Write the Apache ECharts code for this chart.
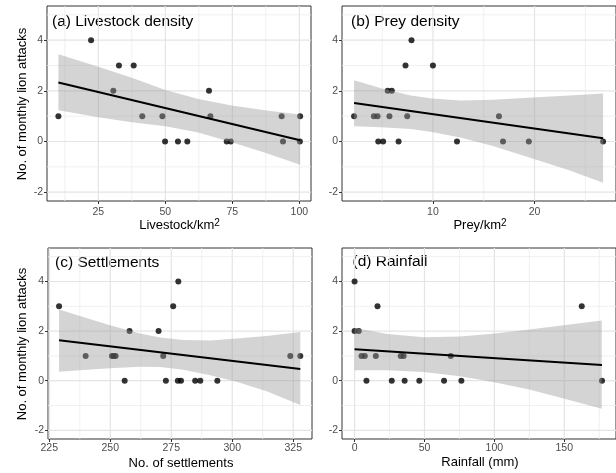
<!DOCTYPE html>
<html><head><meta charset="utf-8">
<script src="https://cdn.jsdelivr.net/npm/echarts@6/dist/echarts.min.js"></script>
<style>html,body{margin:0;padding:0;background:#fff}#c{width:616px;height:473px}</style>
</head><body><div id="c"></div>
<script>
// ---- shared y axis ----
const yLimits = [-2.35, 5.35];
const yTicks = [-2, 0, 2, 4];
const yMinorTicks = [-1, 1, 3, 5];

// ---- (a) Livestock density ----
const livestockLimits = [5.85, 104.35];
const livestockTicks = [25, 50, 75, 100];
const livestockMinor = [12.5, 37.5, 62.5, 87.5];
const livestockX = [10.1, 22.3, 30.6, 32.7, 38.2, 41.4, 48.9, 49.9, 54.7, 58.2, 66.3, 66.8, 72.9, 74.4, 93.4, 93.9, 100.3, 100.2];
const livestockY = [1, 4, 2, 3, 3, 1, 1, 0, 0, 0, 2, 1, 0, 0, 1, 0, 1, 0];
const livestockFitX = [10.1, 100.3];
const livestockFitY = [2.33, 0.05];
const livestockBandX = [10.1, 25, 37.5, 50, 62.3, 74.8, 87.8, 100.3];
const livestockBandLo = [1.23, 0.96, 0.76, 0.60, 0.35, -0.03, -0.46, -0.92];
const livestockBandHi = [3.44, 2.95, 2.52, 2.03, 1.68, 1.42, 1.22, 1.07];

// ---- (b) Prey density ----
const preyLimits = [1.05, 28.02];
const preyTicks = [10, 20];
const preyMinor = [5, 15, 25];
const preyX = [2.24, 4.19, 4.55, 4.62, 5.1, 5.55, 5.72, 5.95, 6.62, 7.3, 7.47, 7.89, 10.0, 12.37, 16.5, 16.9, 19.44, 26.75];
const preyY = [1, 1, 1, 0, 0, 2, 1, 2, 0, 3, 1, 4, 3, 0, 1, 0, 0, 0];
const preyFitX = [2.24, 26.75];
const preyFitY = [1.52, 0.13];
const preyBandX = [2.24, 4.9, 7.8, 9.9, 12.7, 15.9, 19.8, 23.4, 26.75];
const preyBandLo = [0.60, 0.56, 0.49, 0.37, 0.16, -0.18, -0.67, -1.14, -1.63];
const preyBandHi = [2.42, 2.10, 1.82, 1.70, 1.62, 1.65, 1.74, 1.82, 1.89];

// ---- (c) Settlements ----
const settleLimits = [224.47, 332.7];
const settleTicks = [225, 250, 275, 300, 325];
const settleMinor = [237.5, 262.5, 287.5, 312.5];
const settleX = [229, 239.9, 250.7, 251.4, 252.2, 255.9, 257.9, 269.8, 271.7, 272.8, 275.8, 277.9, 277.7, 279, 284.8, 286.9, 293.9, 323.8, 327.9];
const settleY = [3, 1, 1, 1, 1, 0, 2, 2, 1, 0, 3, 4, 0, 0, 0, 0, 0, 1, 1];
const settleFitX = [229, 327.9];
const settleFitY = [1.63, 0.47];
const settleBandX = [229, 238.9, 249.9, 262.2, 270.4, 279.9, 290.9, 301.8, 314.1, 327.9];
const settleBandLo = [0.36, 0.43, 0.50, 0.56, 0.55, 0.44, 0.22, -0.04, -0.42, -0.98];
const settleBandHi = [2.87, 2.57, 2.24, 1.90, 1.74, 1.64, 1.62, 1.70, 1.80, 1.96];

// ---- (d) Rainfall ----
const rainLimits = [-9.0, 187.0];
const rainTicks = [0, 50, 100, 150];
const rainMinor = [25, 75, 125, 175];
const rainX = [0, 0, 3.0, 4.95, 7.3, 8.5, 16.4, 15.2, 26.6, 33.0, 35.1, 35.8, 46.3, 64.0, 68.8, 76.4, 162.5, 177.0];
const rainY = [4, 2, 2, 1, 1, 0, 3, 1, 0, 1, 1, 0, 0, 0, 1, 0, 3, 0];
const rainFitX = [0, 177.0];
const rainFitY = [1.27, 0.63];
const rainBandX = [0, 23.6, 49.5, 75.4, 99, 125, 150.9, 176.8];
const rainBandLo = [0.42, 0.42, 0.35, 0.18, -0.05, -0.35, -0.74, -1.13];
const rainBandHi = [2.12, 1.88, 1.75, 1.78, 1.89, 2.06, 2.25, 2.43];

// ---- text ----
const panelTitles = ['(a) Livestock density', '(b) Prey density', '(c) Settlements', '(d) Rainfall'];
const yTitle = 'No. of monthly lion attacks';

const FONT = '"Liberation Sans", Arial, Helvetica, sans-serif';

const panels = [
  {lim: livestockLimits, ticks: livestockTicks, minor: livestockMinor, x: livestockX, y: livestockY, fx: livestockFitX, fy: livestockFitY, bx: livestockBandX, bl: livestockBandLo, bh: livestockBandHi,
   grid: {left: 47, top: 6, width: 264, height: 195}, labelMargin: 6},
  {lim: preyLimits, ticks: preyTicks, minor: preyMinor, x: preyX, y: preyY, fx: preyFitX, fy: preyFitY, bx: preyBandX, bl: preyBandLo, bh: preyBandHi,
   grid: {left: 342, top: 6, width: 277, height: 195}, labelMargin: 6},
  {lim: settleLimits, ticks: settleTicks, minor: settleMinor, x: settleX, y: settleY, fx: settleFitX, fy: settleFitY, bx: settleBandX, bl: settleBandLo, bh: settleBandHi,
   grid: {left: 48, top: 248, width: 264, height: 191}, labelMargin: 4},
  {lim: rainLimits, ticks: rainTicks, minor: rainMinor, x: rainX, y: rainY, fx: rainFitX, fy: rainFitY, bx: rainBandX, bl: rainBandLo, bh: rainBandHi,
   grid: {left: 342, top: 248, width: 277, height: 191}, labelMargin: 4}
];

function vLine(params, api) {
  const x = api.coord([api.value(0), api.value(1)])[0];
  const cs = params.coordSys;
  const major = api.value(2);
  return {type: 'line', silent: true,
    shape: {x1: x, y1: cs.y, x2: x, y2: cs.y + cs.height},
    style: {stroke: major ? '#e4e4e4' : '#ececec', lineWidth: major ? 1.2 : 0.8}};
}
function hLine(params, api) {
  const y = api.coord([api.value(0), api.value(1)])[1];
  const cs = params.coordSys;
  const major = api.value(2);
  return {type: 'line', silent: true,
    shape: {x1: cs.x, y1: y, x2: cs.x + cs.width, y2: y},
    style: {stroke: major ? '#e4e4e4' : '#ececec', lineWidth: major ? 1.2 : 0.8}};
}
function ribbon(params, api) {
  if (params.dataIndexInside !== 0) return null;
  const n = params.dataInsideLength;
  const top = [], bot = [];
  for (let i = 0; i < n; i++) {
    top.push(api.coord([api.value(0, i), api.value(2, i)]));
    bot.push(api.coord([api.value(0, i), api.value(1, i)]));
  }
  return {type: 'polygon', silent: true,
    shape: {points: top.concat(bot.reverse())},
    style: {fill: '#999999', opacity: 0.42}};
}

const grids = [], xAxes = [], yAxes = [], series = [];
panels.forEach((p, i) => {
  grids.push(Object.assign({show: true, borderColor: '#333333', borderWidth: 1, backgroundColor: 'transparent', containLabel: false}, p.grid));
  xAxes.push({type: 'value', gridIndex: i, min: p.lim[0], max: p.lim[1],
    axisLine: {show: false, onZero: false},
    axisTick: {show: true, length: 3, customValues: p.ticks, lineStyle: {color: '#333333', width: 1}},
    axisLabel: {customValues: p.ticks, margin: p.labelMargin, color: '#4d4d4d', fontSize: 10.5, fontFamily: FONT},
    splitLine: {show: false}});
  yAxes.push({type: 'value', gridIndex: i, min: yLimits[0], max: yLimits[1],
    axisLine: {show: false, onZero: false},
    axisTick: {show: true, length: 3, customValues: yTicks, lineStyle: {color: '#333333', width: 1}},
    axisLabel: {customValues: yTicks, margin: 4, color: '#4d4d4d', fontSize: 10.5, fontFamily: FONT},
    splitLine: {show: false}});
  series.push({type: 'custom', xAxisIndex: i, yAxisIndex: i, silent: true, z: 0, renderItem: vLine,
    data: p.ticks.map(v => [v, 0, 1]).concat(p.minor.map(v => [v, 0, 0]))});
  series.push({type: 'custom', xAxisIndex: i, yAxisIndex: i, silent: true, z: 0, renderItem: hLine,
    data: yTicks.map(v => [p.lim[0], v, 1]).concat(yMinorTicks.map(v => [p.lim[0], v, 0]))});
  series.push({type: 'scatter', xAxisIndex: i, yAxisIndex: i, silent: true, z: 2, symbolSize: 6,
    itemStyle: {color: '#000000'}, data: p.x.map((v, k) => [v, p.y[k]])});
  series.push({type: 'custom', xAxisIndex: i, yAxisIndex: i, silent: true, z: 3, renderItem: ribbon,
    data: p.bx.map((v, k) => [v, p.bl[k], p.bh[k]])});
  series.push({type: 'line', xAxisIndex: i, yAxisIndex: i, silent: true, z: 4, symbol: 'none',
    lineStyle: {color: '#000000', width: 2}, data: p.fx.map((v, k) => [v, p.fy[k]])});
});

function txt(x, y, text, size) {
  return {type: 'text', x: x, y: y,
    style: {text: text, font: size + 'px ' + FONT, fill: '#000000', align: 'left', verticalAlign: 'middle'}};
}
function supTitle(x, y, base) {
  return {type: 'text', x: x, y: y,
    style: {text: '{m|' + base + '}{s|2}', fill: '#000000', align: 'center', verticalAlign: 'middle',
      font: '13px ' + FONT,
      rich: {
        m: {fontSize: 13, fontFamily: FONT, lineHeight: 13, padding: [8, 0, 0, 0], verticalAlign: 'bottom', fill: '#000000'},
        s: {fontSize: 10, fontFamily: FONT, lineHeight: 10, verticalAlign: 'top', fill: '#000000'}
      }}};
}

const graphic = [
  txt(52, 22, panelTitles[0], 15.5),
  txt(351, 22, panelTitles[1], 15.5),
  txt(55, 262.5, panelTitles[2], 15.5),
  txt(352.5, 262, panelTitles[3], 15.5),
  {type: 'text', x: 22.7, y: 104, rotation: Math.PI / 2,
   style: {text: yTitle, font: '13px ' + FONT, fill: '#000000', align: 'center', verticalAlign: 'middle'}},
  {type: 'text', x: 22.7, y: 344, rotation: Math.PI / 2,
   style: {text: yTitle, font: '13px ' + FONT, fill: '#000000', align: 'center', verticalAlign: 'middle'}},
  supTitle(179.5, 225, 'Livestock/km'),
  supTitle(480, 225, 'Prey/km'),
  {type: 'text', x: 181, y: 463, style: {text: 'No. of settlements', font: '13px ' + FONT, fill: '#000000', align: 'center', verticalAlign: 'middle'}},
  {type: 'text', x: 480, y: 462.5, style: {text: 'Rainfall (mm)', font: '13px ' + FONT, fill: '#000000', align: 'center', verticalAlign: 'middle'}}
];

const chart = echarts.init(document.getElementById('c'), null, {renderer: 'canvas'});
chart.setOption({
  backgroundColor: '#ffffff',
  animation: false,
  grid: grids, xAxis: xAxes, yAxis: yAxes, series: series, graphic: graphic
});
</script>
</body></html>
